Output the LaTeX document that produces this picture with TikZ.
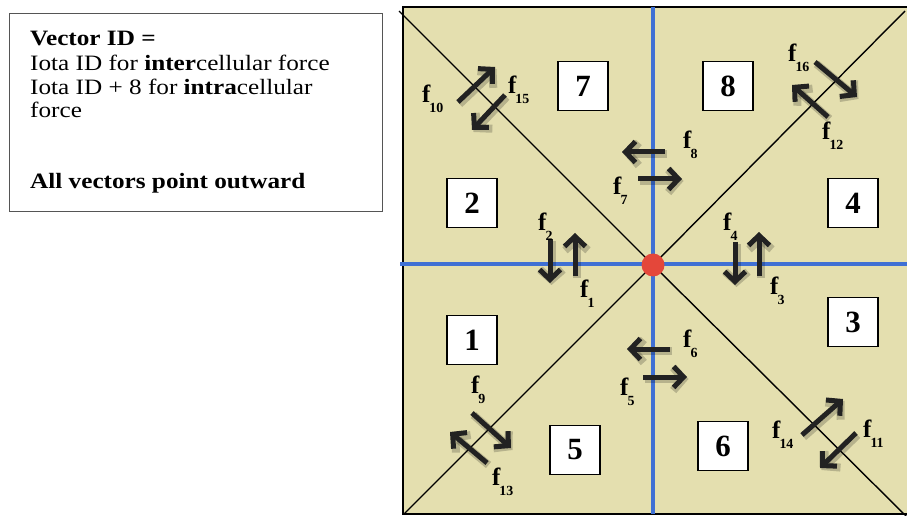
\documentclass[tikz,border=0pt]{standalone}
\usepackage{fontspec}
\setmainfont{Liberation Serif}
\usetikzlibrary{arrows.meta}
\definecolor{khaki}{HTML}{E4DFAF}
\definecolor{lineblue}{HTML}{3F70D4}
\definecolor{dotred}{HTML}{E4473A}
\definecolor{arrowgray}{HTML}{222222}
\definecolor{boxgray}{HTML}{555555}
\newcommand{\hs}[1]{\scalebox{1.15}[1]{#1}}
\newcommand{\fl}[1]{f\kern-1bp\raisebox{-10bp}{\fontsize{14}{14}\selectfont #1}}
\tikzset{
  force/.style={line width=5bp, draw=arrowgray, -{Straight Barb[length=10bp,width=21bp]}},
  forceshadow/.style={line width=8bp, draw=black, opacity=0.2, -{Straight Barb[length=10bp,width=23bp]}},
  numbox/.style={draw=black, line width=1.3bp, fill=white, minimum width=50bp, minimum height=49bp, inner sep=0pt, font=\fontsize{31}{31}\selectfont\bfseries},
  flab/.style={anchor=base west, inner sep=0pt, font=\fontsize{25}{25}\selectfont\bfseries},
  legtext/.style={anchor=base west, inner sep=0pt, font=\fontsize{22}{24}\selectfont},
  diag/.style={draw=black, line width=1.4bp},
  axis/.style={draw=lineblue, line width=3.5bp},
}
\begin{document}
\begin{tikzpicture}[x=1bp,y=-1bp]
\useasboundingbox (0,0) rectangle (907,516);
\fill[white] (0,0) rectangle (907,516);
% legend
\node[draw=boxgray, line width=1.1bp, minimum width=373bp, minimum height=198bp, anchor=north west, inner sep=0pt] (legend) at (9,13) {};
\node[legtext] (l1) at (30,46) {\hs{\textbf{Vector ID =}}};
\node[legtext] (l2) at (30,70.5) {\hs{Iota ID for \textbf{inter}cellular force}};
\node[legtext] (l3) at (30,94.5) {\hs{Iota ID + 8 for \textbf{intra}cellular}};
\node[legtext] (l4) at (30,118) {\hs{force}};
\node[legtext] (l5) at (30,189) {\hs{\textbf{All vectors point outward}}};
% square
\fill[khaki] (403,7) rectangle (907,514);
\coordinate (c) at (653,265);
\coordinate (ctl) at (399,11);
\coordinate (ctr) at (905,11);
\coordinate (cbl) at (404,514);
\coordinate (cbr) at (907,517);
\draw[diag] (ctl) -- (c) -- (cbr);
\draw[diag] (cbl) -- (c) -- (ctr);
\draw[black, line width=1.5bp] (907,7) -- (403,7) -- (403,514) -- (907,514);
\coordinate (hl) at (400,264);
\coordinate (hr) at (907,264);
\coordinate (vt) at (653,7);
\coordinate (vb) at (653,514);
\draw[axis] (hl) -- (hr);
\draw[axis] (vt) -- (vb);
\fill[dotred] (c) circle (11.5bp);
% number boxes
\node[numbox] (n7) at (583,86) {7};
\node[numbox] (n8) at (728,86) {8};
\node[numbox] (n2) at (472,203) {2};
\node[numbox] (n4) at (853,203) {4};
\node[numbox] (n1) at (472,340) {1};
\node[numbox] (n3) at (853,322) {3};
\node[numbox] (n5) at (575,450) {5};
\node[numbox] (n6) at (723,446) {6};
% force vectors
\foreach \a/\b/\c/\d in {458/102/495/67, 505/95/472/130, 815/62/857/97, 828/117/792/85,
  665/152/622/152, 638/179/682/179, 550/239/550/283, 575/276/575/233,
  735/242/735/285, 759/276/759/232, 670/349/627/349, 643/377/687/377,
  472/413/511/448, 487/463/450/432, 802/435/843/399, 856/433/820/468}{
  \draw[forceshadow] (\a+1.5,\b+2) -- (\c+1.5,\d+2);
  \draw[force] (\a,\b) -- (\c,\d);
}
% labels
\node[flab] (f10) at (422,103) {\fl{10}};
\node[flab] (f15) at (508,94) {\fl{15}};
\node[flab] (f16) at (788,62) {\fl{16}};
\node[flab] (f12) at (822,140) {\fl{12}};
\node[flab] (f8) at (683,149) {\fl{8}};
\node[flab] (f7) at (613,195) {\fl{7}};
\node[flab] (f2) at (538,231) {\fl{2}};
\node[flab] (f4) at (723,231) {\fl{4}};
\node[flab] (f1) at (580,298) {\fl{1}};
\node[flab] (f3) at (770,295) {\fl{3}};
\node[flab] (f6) at (683,348) {\fl{6}};
\node[flab] (f5) at (620,395) {\fl{5}};
\node[flab] (f9) at (471,393) {\fl{9}};
\node[flab] (f13) at (492,485) {\fl{13}};
\node[flab] (f14) at (772,438) {\fl{14}};
\node[flab] (f11) at (863,437) {\fl{11}};
\end{tikzpicture}
\end{document}
